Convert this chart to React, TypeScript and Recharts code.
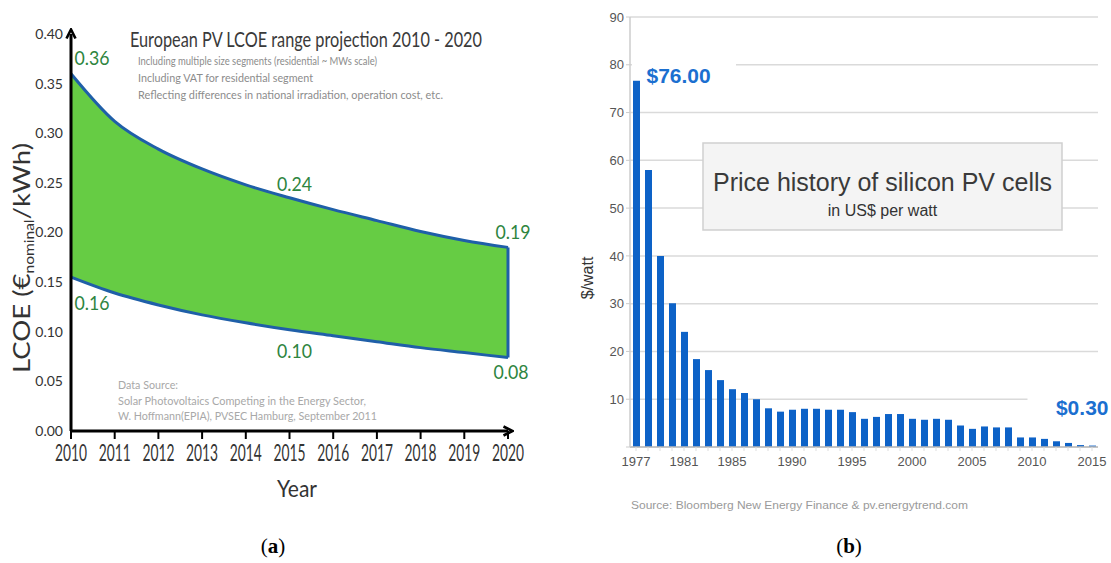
import React from 'react';
import {
  AreaChart, Area, XAxis, YAxis, ReferenceLine, ReferenceDot,
  BarChart, Bar, CartesianGrid, LabelList,
} from 'recharts';

// ---------- Panel (a): European PV LCOE range projection ----------
const lcoeYears = [2010, 2011, 2012, 2013, 2014, 2015, 2016, 2017, 2018, 2019, 2020];
const lcoeHigh = [0.36, 0.312, 0.284, 0.264, 0.248, 0.235, 0.223, 0.212, 0.201, 0.192, 0.185];
const lcoeLow = [0.155, 0.139, 0.127, 0.117, 0.109, 0.102, 0.096, 0.090, 0.084, 0.079, 0.074];
const lcoeTicks = [0, 0.05, 0.1, 0.15, 0.2, 0.25, 0.3, 0.35, 0.4];
const noteIndex = [0, 5, 10];
const highNotes = ['0.36', '0.24', '0.19'];
const lowNotes = ['0.16', '0.10', '0.08'];

// ---------- Panel (b): Price history of silicon PV cells ----------
const priceYears = [
  '1977', '1978', '1979', '1980', '1981', '1982', '1983', '1984', '1985', '1986',
  '1987', '1988', '1989', '1990', '1991', '1992', '1993', '1994', '1995', '1996',
  '1997', '1998', '1999', '2000', '2001', '2002', '2003', '2004', '2005', '2006',
  '2007', '2008', '2009', '2010', '2011', '2012', '2013', '2014', '2015',
];
const prices = [
  76.67, 58, 40, 30.1, 24.1, 18.4, 16.1, 14.0, 12.1, 11.3,
  10.0, 8.1, 7.4, 7.8, 8.0, 8.0, 7.8, 7.8, 7.3, 5.9,
  6.3, 6.9, 6.9, 5.9, 5.7, 5.9, 5.7, 4.5, 3.8, 4.3,
  4.1, 4.1, 2.0, 2.0, 1.7, 1.2, 0.85, 0.4, 0.3,
];
const priceTicks = [0, 10, 20, 30, 40, 50, 60, 70, 80, 90];
const labeledYears = ['1977', '1981', '1985', '1990', '1995', '2000', '2005', '2010', '2015'];
const priceNotes = ['$76.00', '$0.30'];

const rangeData = lcoeYears.map((y, i) => ({ year: y, range: [lcoeLow[i], lcoeHigh[i]] }));
const priceData = priceYears.map((y, i) => ({ year: y, price: prices[i] }));

const LATO = 'Lato, sans-serif';
const SANS = '"Liberation Sans", Arial, sans-serif';
const SERIF = '"Liberation Serif", "Times New Roman", serif';
const GREEN_TXT = '#2e8540';
const BLUE_LINE = '#1f5fa8';

const highOffsets = [[21, -16], [5, -14], [5, -15]];
const lowOffsets = [[21, 26], [5, 21], [3, 14]];

const makeNote = (text: string, dx: number, dy: number) => (props: any) => {
  const vb = props.viewBox || {};
  const cx = (vb.x ?? 0) + (vb.width ?? 0) / 2;
  const cy = (vb.y ?? 0) + (vb.height ?? 0) / 2;
  return (
    <text x={cx + dx} y={cy + dy + 7} textAnchor="middle" fontFamily={LATO} fontSize={19}
      fill={GREEN_TXT} textLength={35} lengthAdjust="spacingAndGlyphs">{text}</text>
  );
};

const LeftXTick = (props: any) => {
  const { x, y, payload } = props;
  return (
    <text transform={`translate(${x},${y + 20}) scale(1,1.35)`} x={0} y={0} textAnchor="middle"
      fontFamily={LATO} fontSize={17} fill="#333" textLength={32} lengthAdjust="spacingAndGlyphs">
      {payload.value}
    </text>
  );
};

const PriceNote = (props: any) => {
  const { x, y, width, index } = props;
  if (index === 0) {
    return (
      <g>
        <rect x={x - 1} y={y - 24} width={104} height={22} fill="#fff" />
        <text x={x + width + 6.5} y={y + 2} fontFamily={SANS} fontSize={21} fontWeight="bold"
          fill="#1b6fd0">{priceNotes[0]}</text>
      </g>
    );
  }
  if (index === prices.length - 1) {
    return (
      <g>
        <rect x={x - 61.5} y={y - 71} width={90} height={57} fill="#fff" />
        <text x={x + width / 2 + 16} y={y - 31} textAnchor="end" fontFamily={SANS} fontSize={21}
          fontWeight="bold" fill="#1b6fd0">{priceNotes[1]}</text>
      </g>
    );
  }
  return null;
};

export default function App() {
  return (
    <div style={{ position: 'absolute', left: 0, top: 0, width: 1111, height: 563, background: '#fff', overflow: 'hidden' }}>
      {/* Panel (a) */}
      <div style={{ position: 'absolute', left: 0, top: 0 }}>
        <AreaChart width={540} height={500} data={rangeData} margin={{ top: 34, right: 32, left: 0, bottom: 0 }}>
          <defs>
            <marker id="axArrow" viewBox="0 0 12 12" refX="6" refY="6" markerWidth="12" markerHeight="12"
              markerUnits="userSpaceOnUse" orient="auto-start-reverse">
              <path d="M1.5,1.5 L10.5,6 L1.5,10.5" fill="none" stroke="#000" strokeWidth="2.6" />
            </marker>
          </defs>
          <XAxis dataKey="year" type="number" domain={[2010, 2020]} ticks={lcoeYears} interval={0}
            height={69} tickSize={8} tickMargin={2}
            axisLine={{ stroke: '#000', strokeWidth: 3, markerEnd: 'url(#axArrow)' }}
            tickLine={{ stroke: '#000', strokeWidth: 2 }} tick={<LeftXTick />} />
          <YAxis type="number" domain={[0, 0.4]} ticks={lcoeTicks} width={71} tickSize={0} tickMargin={8}
            tickLine={false} tickFormatter={(v: number) => v.toFixed(2)}
            axisLine={{ stroke: '#000', strokeWidth: 3, markerStart: 'url(#axArrow)' }}
            tick={{ fontFamily: LATO, fontSize: 14, fill: '#333' }} />
          <Area type="monotone" dataKey="range" stroke={BLUE_LINE} strokeWidth={3} fill="#66cc44"
            fillOpacity={1} dot={false} activeDot={false} isAnimationActive={false} />
          <ReferenceLine segment={[{ x: lcoeYears[10], y: lcoeLow[10] }, { x: lcoeYears[10], y: lcoeHigh[10] }]}
            stroke={BLUE_LINE} strokeWidth={3} />
          {noteIndex.map((idx, k) => (
            <ReferenceDot key={'h' + k} x={lcoeYears[idx]} y={lcoeHigh[idx]} r={1} fill="none" stroke="none"
              label={makeNote(highNotes[k], highOffsets[k][0], highOffsets[k][1])} />
          ))}
          {noteIndex.map((idx, k) => (
            <ReferenceDot key={'l' + k} x={lcoeYears[idx]} y={lcoeLow[idx]} r={1} fill="none" stroke="none"
              label={makeNote(lowNotes[k], lowOffsets[k][0], lowOffsets[k][1])} />
          ))}
        </AreaChart>
      </div>

      {/* Panel (b) */}
      <div style={{ position: 'absolute', left: 560, top: 0 }}>
        <BarChart width={551} height={480} data={priceData} margin={{ top: 17, right: 13, left: 0, bottom: 0 }}>
          <CartesianGrid vertical={false} stroke="#dadada" strokeWidth={1.5} yAxisId="left" />
          <XAxis dataKey="year" interval={0} height={33} tickSize={4} tickMargin={6}
            axisLine={{ stroke: '#bbb', strokeWidth: 1.5 }} tickLine={{ stroke: '#ddd' }}
            tickFormatter={(v: string) => (labeledYears.includes(String(v)) ? String(v) : '')}
            tick={{ fontFamily: SANS, fontSize: 13, fill: '#555' }} />
          <YAxis yAxisId="left" type="number" domain={[0, 90]} ticks={priceTicks} width={70}
            tickSize={4} tickMargin={2} axisLine={{ stroke: '#ccc', strokeWidth: 1.5 }} tickLine={{ stroke: '#ccc' }}
            tickFormatter={(v: number) => (v === 0 ? '' : String(v))}
            tick={{ fontFamily: SANS, fontSize: 13, fill: '#555' }} />
          <YAxis yAxisId="right" orientation="right" type="number" domain={[0, 90]} width={0}
            tick={false} tickLine={false} axisLine={{ stroke: '#ccc', strokeWidth: 1.5 }} />
          <Bar yAxisId="left" dataKey="price" fill="#0d62c7" barSize={7} isAnimationActive={false}>
            <LabelList dataKey="price" content={<PriceNote />} />
          </Bar>
        </BarChart>
      </div>

      {/* Free text overlay */}
      <svg width={1111} height={563} style={{ position: 'absolute', left: 0, top: 0, pointerEvents: 'none' }}>
        {/* panel (a) texts */}
        <text x={130} y={47} fontFamily={LATO} fontSize={21} fill="#3a3a3a" textLength={352}
          lengthAdjust="spacingAndGlyphs">European PV LCOE range projection 2010 - 2020</text>
        <text x={138} y={65} fontFamily={LATO} fontSize={11} fill="#8c8c8c" textLength={239}
          lengthAdjust="spacingAndGlyphs">Including multiple size segments (residential ~ MWs scale)</text>
        <text x={138} y={82} fontFamily={LATO} fontSize={11} fill="#8c8c8c" textLength={175}
          lengthAdjust="spacingAndGlyphs">Including VAT for residential segment</text>
        <text x={138} y={99} fontFamily={LATO} fontSize={11} fill="#8c8c8c" textLength={305}
          lengthAdjust="spacingAndGlyphs">Reflecting differences in national irradiation, operation cost, etc.</text>
        <text x={118} y={389} fontFamily={LATO} fontSize={11} fill="#a8a8a8" textLength={60}
          lengthAdjust="spacingAndGlyphs">Data Source:</text>
        <text x={118} y={405} fontFamily={LATO} fontSize={11} fill="#a8a8a8" textLength={248}
          lengthAdjust="spacingAndGlyphs">Solar Photovoltaics Competing in the Energy Sector,</text>
        <text x={118} y={420} fontFamily={LATO} fontSize={11} fill="#a8a8a8" textLength={259}
          lengthAdjust="spacingAndGlyphs">W. Hoffmann(EPIA), PVSEC Hamburg, September  2011</text>
        <text transform="translate(30,373) rotate(-90)" fontFamily={LATO} fontSize={23} fill="#333"
          textLength={230} lengthAdjust="spacingAndGlyphs">
          LCOE (€<tspan fontSize={13} dy={4}>nominal</tspan><tspan dy={-4}>/kWh)</tspan>
        </text>
        <text x={297} y={497} textAnchor="middle" fontFamily={LATO} fontSize={24} fill="#333"
          textLength={40} lengthAdjust="spacingAndGlyphs">Year</text>
        <text x={273} y={553} textAnchor="middle" fontFamily={SERIF} fontSize={21} fill="#000">
          (<tspan fontWeight="bold">a</tspan>)
        </text>

        {/* panel (b) texts */}
        <rect x={703} y={143} width={359} height={87} fill="#f4f4f4" stroke="#cfcfcf" strokeWidth={1.5} />
        <text x={882.5} y={191} textAnchor="middle" fontFamily={SANS} fontSize={25} fill="#3a3a3a">
          Price history of silicon PV cells
        </text>
        <text x={882.5} y={216} textAnchor="middle" fontFamily={SANS} fontSize={16} fill="#333">
          in US$ per watt
        </text>
        <text transform="translate(593,278) rotate(-90)" textAnchor="middle" fontFamily={SANS} fontSize={16}
          fill="#333">$/watt</text>
        <text x={631} y={509} fontFamily={SANS} fontSize={11.5} fill="#9a9a9a" textLength={337}
          lengthAdjust="spacingAndGlyphs">Source: Bloomberg New Energy Finance &amp; pv.energytrend.com</text>
        <text x={849} y={553} textAnchor="middle" fontFamily={SERIF} fontSize={21} fill="#000">
          (<tspan fontWeight="bold">b</tspan>)
        </text>
      </svg>
    </div>
  );
}
